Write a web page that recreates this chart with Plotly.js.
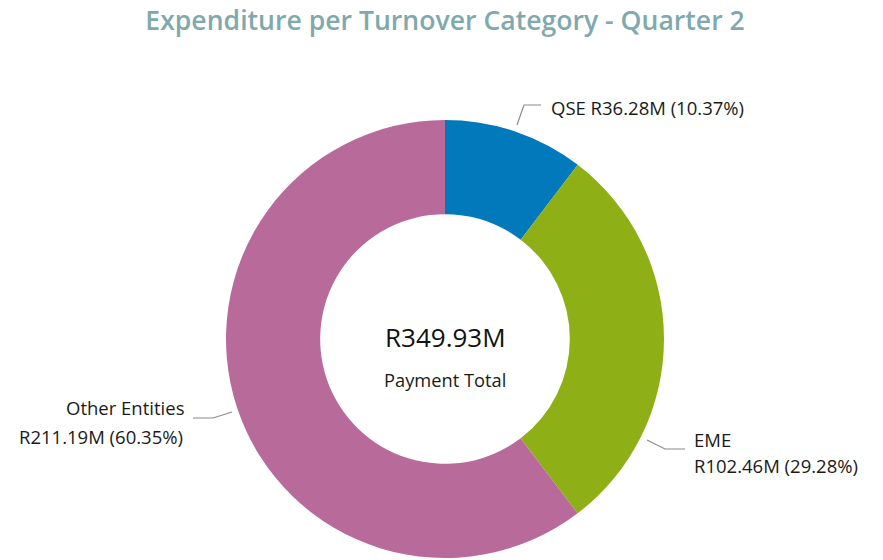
<!DOCTYPE html>
<html>
<head>
<meta charset="utf-8">
<script src="https://cdn.plot.ly/plotly-3.0.1.min.js"></script>
<style>html,body{margin:0;padding:0;background:#fff}#chart{width:883px;height:560px}</style>
</head>
<body>
<div id="chart"></div>
<script>
const categories = ["QSE", "EME", "Other Entities"];
const valuesM = [36.28, 102.46, 211.19];
const percents = ["10.37%", "29.28%", "60.35%"];
const totalLabel = "R349.93M";
const totalCaption = "Payment Total";
const colors = ["#0179BA", "#8FAF16", "#B86B9A"];

const W = 883, H = 560;
const cx = 445, cy = 339, R = 219;
const px = x => x / W;
const py = y => 1 - y / H;

const fontFam = "'Open Sans', 'Noto Sans', 'DejaVu Sans', sans-serif";
const labelColor = "#1a1a1a";
const lineColor = "#8c8c8c";
const lblSize = 18.5;

const trace = {
  type: "pie",
  labels: categories,
  values: valuesM,
  marker: {colors: colors, line: {width: 0}},
  hole: 0.57,
  sort: false,
  direction: "clockwise",
  rotation: 0,
  textinfo: "none",
  hoverinfo: "label+value+percent",
  showlegend: false,
  domain: {x: [px(cx - R), px(cx + R)], y: [py(cy + R), py(cy - R)]}
};

const lab = (i) => ({name: categories[i], val: "R" + valuesM[i].toFixed(2) + "M", pct: percents[i]});

const annotations = [
  {x: 549, y: 107, xref: "x", yref: "y", xanchor: "left", yanchor: "middle", showarrow: false,
   text: lab(0).name + " " + lab(0).val + " (" + lab(0).pct + ")", font: {size: lblSize, color: labelColor, family: fontFam}},
  {x: 692, y: 439, xref: "x", yref: "y", xanchor: "left", yanchor: "middle", showarrow: false,
   text: lab(1).name, font: {size: lblSize, color: labelColor, family: fontFam}},
  {x: 692, y: 465, xref: "x", yref: "y", xanchor: "left", yanchor: "middle", showarrow: false,
   text: lab(1).val + " (" + lab(1).pct + ")", font: {size: lblSize, color: labelColor, family: fontFam}},
  {x: 186, y: 407, xref: "x", yref: "y", xanchor: "right", yanchor: "middle", showarrow: false,
   text: lab(2).name, font: {size: lblSize, color: labelColor, family: fontFam}},
  {x: 185, y: 436, xref: "x", yref: "y", xanchor: "right", yanchor: "middle", showarrow: false,
   text: lab(2).val + " (" + lab(2).pct + ")", font: {size: lblSize, color: labelColor, family: fontFam}},
  {x: cx, y: 337, xref: "x", yref: "y", xanchor: "center", yanchor: "middle", showarrow: false,
   text: totalLabel, font: {size: 26, color: "#111111", family: fontFam}},
  {x: cx, y: 379, xref: "x", yref: "y", xanchor: "center", yanchor: "middle", showarrow: false,
   text: totalCaption, font: {size: 18.3, color: labelColor, family: fontFam}}
];

const shapes = [
  {type: "path", xref: "x", yref: "y", path: "M517,125 L524,105 L541,105", line: {color: lineColor, width: 1.2}},
  {type: "path", xref: "x", yref: "y", path: "M647,440 L665,449 L685,449", line: {color: lineColor, width: 1.2}},
  {type: "path", xref: "x", yref: "y", path: "M232,412 L213,418 L193,418", line: {color: lineColor, width: 1.2}}
];

const layout = {
  width: W, height: H,
  margin: {l: 0, r: 0, t: 0, b: 0},
  paper_bgcolor: "#ffffff",
  plot_bgcolor: "rgba(0,0,0,0)",
  title: {text: "Expenditure per Turnover Category - Quarter 2", x: 0.504, xanchor: "center", y: 0.963, yanchor: "middle", yref: "container",
          font: {size: 26.6, color: "#80A9AE", family: fontFam, weight: 600}},
  xaxis: {range: [0, W], visible: false, fixedrange: true},
  yaxis: {range: [H, 0], visible: false, fixedrange: true},
  annotations: annotations,
  shapes: shapes,
  showlegend: false
};

Plotly.newPlot("chart", [trace], layout, {displayModeBar: false, staticPlot: false});
</script>
</body>
</html>
